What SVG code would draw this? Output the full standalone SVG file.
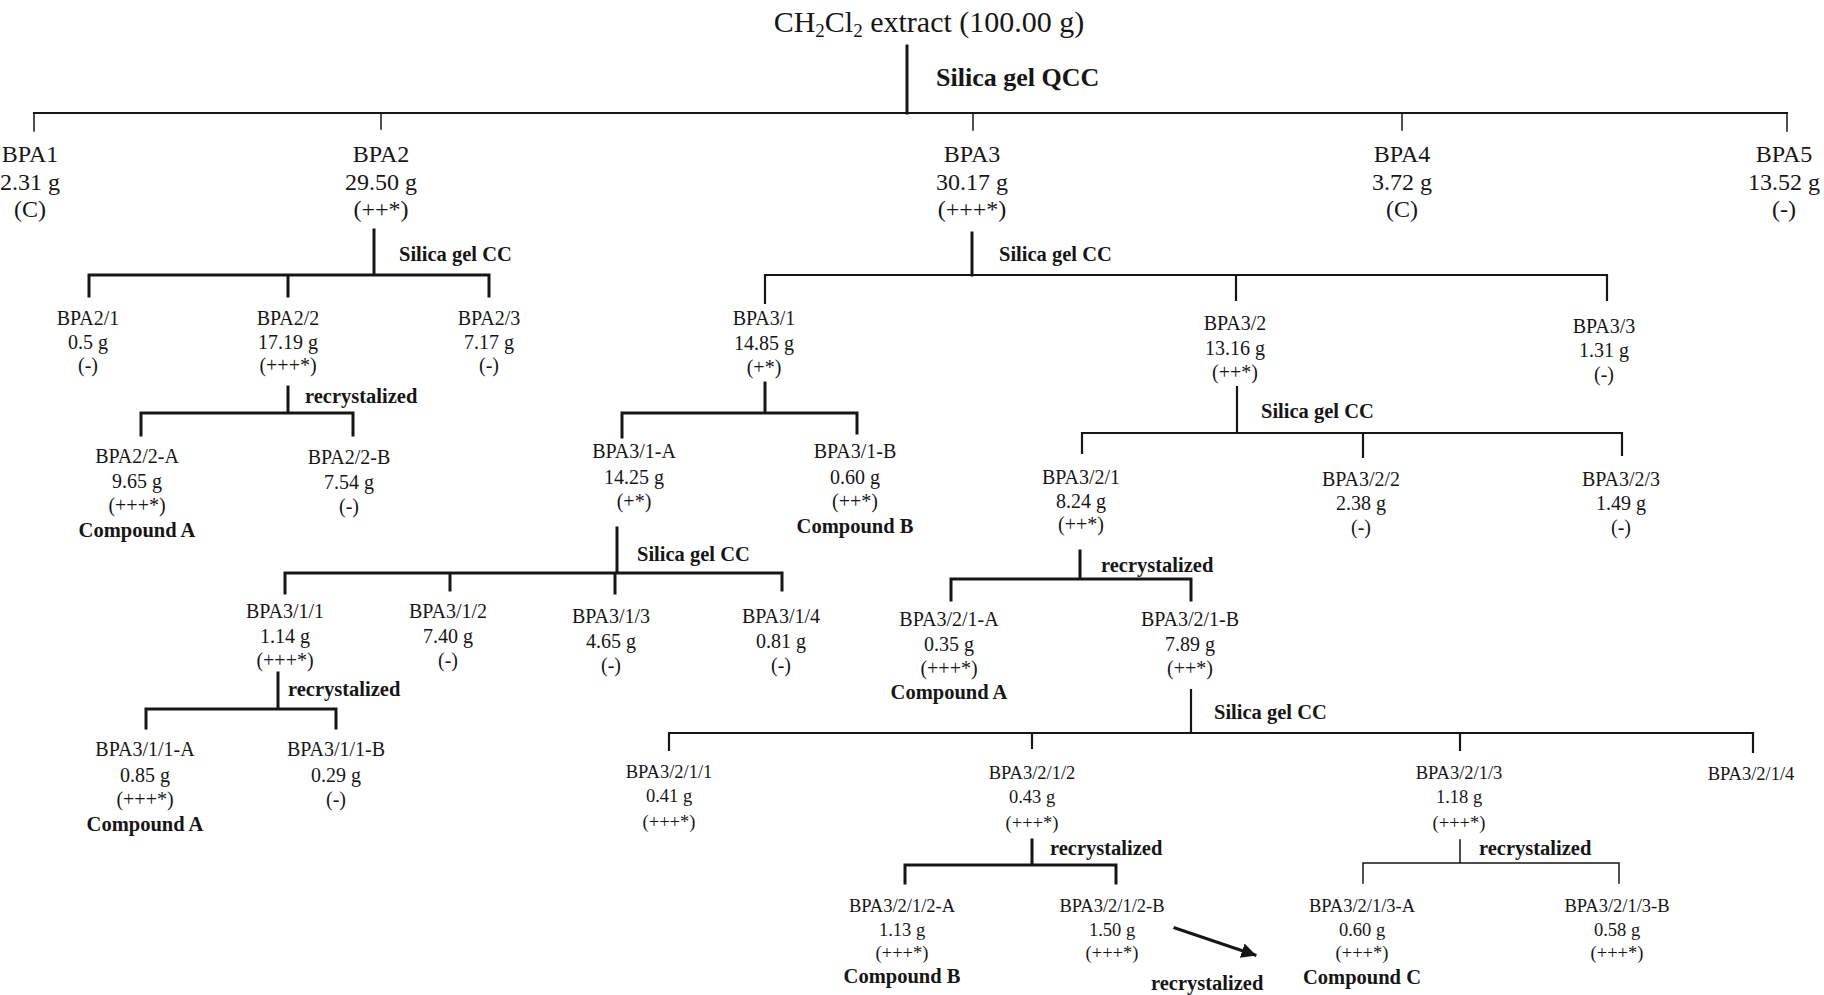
<svg xmlns="http://www.w3.org/2000/svg" width="1824" height="995" viewBox="0 0 1824 995">
<style>
text{font-family:"Liberation Serif","Times New Roman",serif;fill:#161616;text-anchor:middle}
.t1{font-size:24px}
.t2{font-size:20px}
.t4{font-size:18.5px}
.b{font-weight:bold;font-size:20.5px;text-anchor:start}
.title{font-size:30px}
.c path{fill:none;stroke:#161616;stroke-linecap:square}
.thick{stroke-width:3}
.med{stroke-width:2.2}
.thin{stroke-width:1.5}
</style>
<defs>
<marker id="ah" viewBox="0 0 10 10" refX="9" refY="5" markerWidth="5" markerHeight="5" orient="auto" markerUnits="strokeWidth">
<path d="M0,0 L10,5 L0,10 z" fill="#161616"/>
</marker>
</defs>
<rect width="1824" height="995" fill="#ffffff"/>

<g id="connectors" class="c">
<path class="thick" d="M907 46 V113"/>
<path class="med" d="M34 113 H1787"/>
<path class="thin" d="M34 113 V131 M381 113 V129 M973 113 V130 M1402 113 V130 M1787 113 V131"/>
<path class="thick" d="M374 230 V275 M89 275 H489 M89 275 V296 M288 275 V296 M489 275 V296"/>
<path class="thick" d="M288 387 V413 M141 413 H353 M141 413 V435 M353 413 V435"/>
<path class="thick" d="M972 233 V275"/>
<path class="med" d="M765 275 H1607 M765 275 V303 M1236 275 V300 M1607 275 V300"/>
<path class="thick" d="M765 383 V413 M622 413 H857 M622 413 V437 M857 413 V433"/>
<path class="thick" d="M617 528 V573 M285 573 H782 M285 573 V593 M450 573 V590 M615 573 V593 M782 573 V590"/>
<path class="thick" d="M278 673 V709 M146 709 H336 M146 709 V728 M336 709 V728"/>
<path class="med" d="M1237 387 V433 M1082 433 H1622 M1082 433 V453 M1363 433 V457 M1622 433 V455"/>
<path class="thick" d="M1080 551 V579 M951 579 H1191 M951 579 V600 M1191 579 V600"/>
<path class="med" d="M1191 690 V733 M669 733 H1753 M669 733 V750 M1032 733 V748 M1460 733 V750 M1753 733 V752"/>
<path class="thick" d="M1032 840 V865 M905 865 H1116 M905 865 V883 M1116 865 V883"/>
<path class="thin" d="M1460 840 V863 M1363 863 H1619 M1363 863 V883 M1619 863 V883"/>
<path class="thick" d="M1175 928 L1255 955" marker-end="url(#ah)"/>
</g>

<g id="labels">
<text class="b" x="936" y="86" style="font-size:26px">Silica gel QCC</text>
<text class="b" x="399" y="261">Silica gel CC</text>
<text class="b" x="999" y="261">Silica gel CC</text>
<text class="b" x="305" y="403">recrystalized</text>
<text class="b" x="1261" y="418">Silica gel CC</text>
<text class="b" x="637" y="561">Silica gel CC</text>
<text class="b" x="1101" y="572">recrystalized</text>
<text class="b" x="288" y="696">recrystalized</text>
<text class="b" x="1214" y="719">Silica gel CC</text>
<text class="b" x="1050" y="855">recrystalized</text>
<text class="b" x="1479" y="855">recrystalized</text>
<text class="b" x="1151" y="990">recrystalized</text>
</g>

<g id="n-extract"><text class="title" x="929" y="32">CH<tspan font-size="19" dy="5">2</tspan><tspan dy="-5">Cl</tspan><tspan font-size="19" dy="5">2</tspan><tspan dy="-5"> extract (100.00 g)</tspan></text></g>

<g id="n-BPA1" class="t1"><text x="30" y="162">BPA1</text><text x="30" y="190">2.31 g</text><text x="30" y="217">(C)</text></g>
<g id="n-BPA2" class="t1"><text x="381" y="162">BPA2</text><text x="381" y="190">29.50 g</text><text x="381" y="217">(++*)</text></g>
<g id="n-BPA3" class="t1"><text x="972" y="162">BPA3</text><text x="972" y="190">30.17 g</text><text x="972" y="217">(+++*)</text></g>
<g id="n-BPA4" class="t1"><text x="1402" y="162">BPA4</text><text x="1402" y="190">3.72 g</text><text x="1402" y="217">(C)</text></g>
<g id="n-BPA5" class="t1"><text x="1784" y="162">BPA5</text><text x="1784" y="190">13.52 g</text><text x="1784" y="217">(-)</text></g>

<g id="n-BPA2-1" class="t2"><text x="88" y="325">BPA2/1</text><text x="88" y="349">0.5 g</text><text x="88" y="372">(-)</text></g>
<g id="n-BPA2-2" class="t2"><text x="288" y="325">BPA2/2</text><text x="288" y="349">17.19 g</text><text x="288" y="372">(+++*)</text></g>
<g id="n-BPA2-3" class="t2"><text x="489" y="325">BPA2/3</text><text x="489" y="349">7.17 g</text><text x="489" y="372">(-)</text></g>
<g id="n-BPA2-2-A" class="t2"><text x="137" y="463">BPA2/2-A</text><text x="137" y="488">9.65 g</text><text x="137" y="512">(+++*)</text><text class="b" x="137" y="537" style="text-anchor:middle">Compound A</text></g>
<g id="n-BPA2-2-B" class="t2"><text x="349" y="464">BPA2/2-B</text><text x="349" y="489">7.54 g</text><text x="349" y="513">(-)</text></g>

<g id="n-BPA3-1" class="t2"><text x="764" y="325">BPA3/1</text><text x="764" y="350">14.85 g</text><text x="764" y="374">(+*)</text></g>
<g id="n-BPA3-2" class="t2"><text x="1235" y="330">BPA3/2</text><text x="1235" y="355">13.16 g</text><text x="1235" y="379">(++*)</text></g>
<g id="n-BPA3-3" class="t2"><text x="1604" y="333">BPA3/3</text><text x="1604" y="357">1.31 g</text><text x="1604" y="381">(-)</text></g>

<g id="n-BPA3-1-A" class="t2"><text x="634" y="458">BPA3/1-A</text><text x="634" y="484">14.25 g</text><text x="634" y="508">(+*)</text></g>
<g id="n-BPA3-1-B" class="t2"><text x="855" y="458">BPA3/1-B</text><text x="855" y="484">0.60 g</text><text x="855" y="508">(++*)</text><text class="b" x="855" y="533" style="text-anchor:middle">Compound B</text></g>

<g id="n-BPA3-1-1" class="t2"><text x="285" y="618">BPA3/1/1</text><text x="285" y="643">1.14 g</text><text x="285" y="667">(+++*)</text></g>
<g id="n-BPA3-1-2" class="t2"><text x="448" y="618">BPA3/1/2</text><text x="448" y="643">7.40 g</text><text x="448" y="667">(-)</text></g>
<g id="n-BPA3-1-3" class="t2"><text x="611" y="623">BPA3/1/3</text><text x="611" y="648">4.65 g</text><text x="611" y="672">(-)</text></g>
<g id="n-BPA3-1-4" class="t2"><text x="781" y="623">BPA3/1/4</text><text x="781" y="648">0.81 g</text><text x="781" y="672">(-)</text></g>

<g id="n-BPA3-1-1-A" class="t2"><text x="145" y="756">BPA3/1/1-A</text><text x="145" y="782">0.85 g</text><text x="145" y="806">(+++*)</text><text class="b" x="145" y="831" style="text-anchor:middle">Compound A</text></g>
<g id="n-BPA3-1-1-B" class="t2"><text x="336" y="756">BPA3/1/1-B</text><text x="336" y="782">0.29 g</text><text x="336" y="806">(-)</text></g>

<g id="n-BPA3-2-1" class="t2"><text x="1081" y="484">BPA3/2/1</text><text x="1081" y="508">8.24 g</text><text x="1081" y="531">(++*)</text></g>
<g id="n-BPA3-2-2" class="t2"><text x="1361" y="486">BPA3/2/2</text><text x="1361" y="510">2.38 g</text><text x="1361" y="534">(-)</text></g>
<g id="n-BPA3-2-3" class="t2"><text x="1621" y="486">BPA3/2/3</text><text x="1621" y="510">1.49 g</text><text x="1621" y="534">(-)</text></g>

<g id="n-BPA3-2-1-A" class="t2"><text x="949" y="626">BPA3/2/1-A</text><text x="949" y="651">0.35 g</text><text x="949" y="675">(+++*)</text><text class="b" x="949" y="699" style="text-anchor:middle">Compound A</text></g>
<g id="n-BPA3-2-1-B" class="t2"><text x="1190" y="626">BPA3/2/1-B</text><text x="1190" y="651">7.89 g</text><text x="1190" y="675">(++*)</text></g>

<g id="n-BPA3-2-1-1" class="t4"><text x="669" y="778">BPA3/2/1/1</text><text x="669" y="802">0.41 g</text><text x="669" y="828">(+++*)</text></g>
<g id="n-BPA3-2-1-2" class="t4"><text x="1032" y="779">BPA3/2/1/2</text><text x="1032" y="803">0.43 g</text><text x="1032" y="829">(+++*)</text></g>
<g id="n-BPA3-2-1-3" class="t4"><text x="1459" y="779">BPA3/2/1/3</text><text x="1459" y="803">1.18 g</text><text x="1459" y="829">(+++*)</text></g>
<g id="n-BPA3-2-1-4" class="t4"><text x="1751" y="780">BPA3/2/1/4</text></g>

<g id="n-BPA3-2-1-2-A" class="t4"><text x="902" y="912">BPA3/2/1/2-A</text><text x="902" y="936">1.13 g</text><text x="902" y="959">(+++*)</text><text class="b" x="902" y="983" style="text-anchor:middle">Compound B</text></g>
<g id="n-BPA3-2-1-2-B" class="t4"><text x="1112" y="912">BPA3/2/1/2-B</text><text x="1112" y="936">1.50 g</text><text x="1112" y="959">(+++*)</text></g>
<g id="n-BPA3-2-1-3-A" class="t4"><text x="1362" y="912">BPA3/2/1/3-A</text><text x="1362" y="936">0.60 g</text><text x="1362" y="959">(+++*)</text><text class="b" x="1362" y="984" style="text-anchor:middle">Compound C</text></g>
<g id="n-BPA3-2-1-3-B" class="t4"><text x="1617" y="912">BPA3/2/1/3-B</text><text x="1617" y="936">0.58 g</text><text x="1617" y="959">(+++*)</text></g>
</svg>
